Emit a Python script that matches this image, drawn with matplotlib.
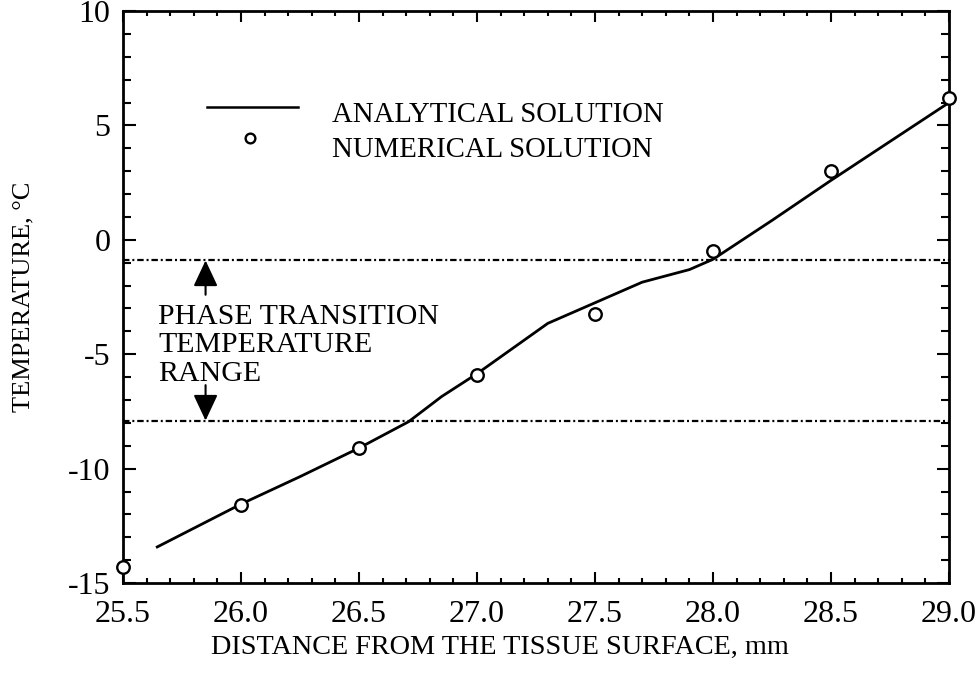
import matplotlib
matplotlib.use("Agg")
import matplotlib.pyplot as plt
from matplotlib.ticker import MultipleLocator

plt.rcParams['font.family'] = ['Liberation Serif', 'DejaVu Serif']

# analytical solution (smooth curve)
x_analytical = [25.64, 26.0, 26.25, 26.5, 26.71, 26.85, 27.0, 27.15, 27.3, 27.5,
                27.7, 27.9, 28.0, 28.25, 28.5, 28.75, 29.0]
t_analytical = [-13.45, -11.55, -10.35, -9.1, -7.95, -6.85, -5.85, -4.75, -3.65, -2.75,
                -1.85, -1.3, -0.85, 0.85, 2.6, 4.3, 6.0]

# numerical solution (open circles)
x_numerical = [25.5, 26.0, 26.5, 27.0, 27.5, 28.0, 28.5, 29.0]
t_numerical = [-14.3, -11.6, -9.1, -5.9, -3.25, -0.5, 3.0, 6.2]

# phase transition temperature range
t_upper = -0.9
t_lower = -7.9

x_ticks = [25.5, 26.0, 26.5, 27.0, 27.5, 28.0, 28.5, 29.0]
x_ticklabels = ["25.5", "26.0", "26.5", "27.0", "27.5", "28.0", "28.5", "29.0"]
y_ticks = [-15, -10, -5, 0, 5, 10]
y_ticklabels = ["-15", "-10", "-5", "0", "5", "10"]

fig = plt.figure(figsize=(9.79, 6.90), dpi=100)
ax = fig.add_axes([0.1256, 0.155, 0.8438, 0.829])

ax.plot(x_analytical, t_analytical, color='black', lw=2, solid_capstyle='butt')
ax.plot(x_numerical, t_numerical, linestyle='none', marker='o', markersize=9,
        markerfacecolor='white', markeredgecolor='black', markeredgewidth=1.7,
        clip_on=False, zorder=5)

dashdot = (0, (2.9, 1.3, 0.9, 1.3))
ax.axhline(t_upper, color='black', lw=1.6, linestyle=dashdot)
ax.axhline(t_lower, color='black', lw=1.6, linestyle=dashdot)

# arrows pointing at the range limits
arrow = dict(arrowstyle='-|>,head_length=1.6,head_width=0.75', color='black', lw=1.5,
             shrinkA=0, shrinkB=0)
ax.annotate('', xy=(25.85, t_upper), xytext=(25.85, -2.4), arrowprops=arrow)
ax.annotate('', xy=(25.85, t_lower), xytext=(25.85, -6.35), arrowprops=arrow)

ax.text(25.65, -3.66, "PHASE TRANSITION", fontsize=21.5, va='baseline')
ax.text(25.65, -4.88, "TEMPERATURE", fontsize=21.5, va='baseline')
ax.text(25.65, -6.15, "RANGE", fontsize=21.5, va='baseline')

# legend drawn by hand
ax.plot([0.102, 0.212], [0.832, 0.832], transform=ax.transAxes, color='black', lw=1.8)
ax.plot([0.154], [0.778], transform=ax.transAxes, linestyle='none', marker='o',
        markersize=7, markerfacecolor='white', markeredgecolor='black',
        markeredgewidth=1.7)
ax.text(0.253, 0.806, "ANALYTICAL SOLUTION", transform=ax.transAxes, fontsize=20.7,
        va='baseline')
ax.text(0.253, 0.744, "NUMERICAL SOLUTION", transform=ax.transAxes, fontsize=20.7,
        va='baseline')

ax.set_xlim(25.5, 29.0)
ax.set_ylim(-15, 10)
ax.set_xticks(x_ticks)
ax.set_xticklabels(x_ticklabels)
ax.set_yticks(y_ticks)
ax.set_yticklabels(y_ticklabels)
ax.xaxis.set_minor_locator(MultipleLocator(0.1))
ax.yaxis.set_minor_locator(MultipleLocator(1))

ax.tick_params(which='both', direction='in', top=True, right=True, width=1.5,
               labelsize=23)
ax.tick_params(axis='x', which='major', length=8, pad=12)
ax.tick_params(axis='x', which='minor', length=3.5)
ax.tick_params(axis='y', which='major', length=9, pad=9)
ax.tick_params(axis='y', which='minor', length=5.5)
for s in ax.spines.values():
    s.set_linewidth(2)

ax.set_xlabel("DISTANCE FROM THE TISSUE SURFACE, mm", fontsize=20.3)
ax.set_ylabel("TEMPERATURE, °C", fontsize=19)
ax.xaxis.set_label_coords(0.456, -0.09)
ax.yaxis.set_label_coords(-0.107, 0.5)

fig.savefig("out.png", dpi=100)
